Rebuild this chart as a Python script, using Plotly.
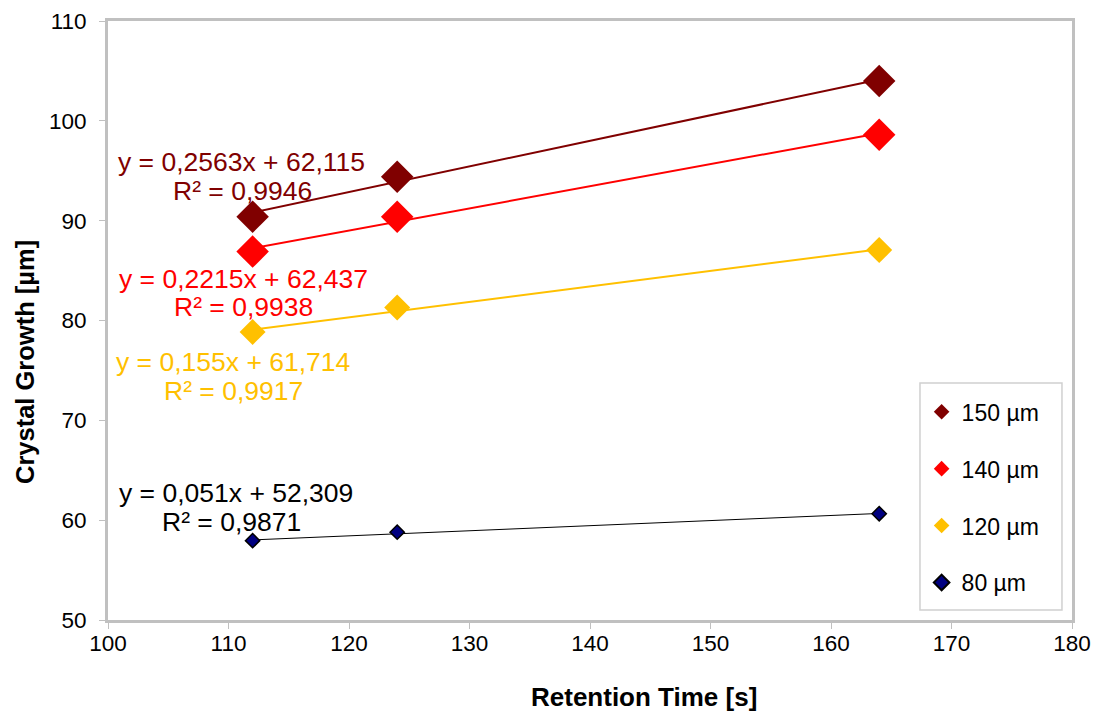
import plotly.graph_objects as go
import numpy as np

# ---- data ----
retention_time = [112, 124, 164]
series_names = ["150 µm", "140 µm", "120 µm", "80 µm"]
growth_150 = [90.4, 94.4, 104.0]
growth_140 = [86.9, 90.4, 98.6]
growth_120 = [78.85, 81.3, 87.05]
growth_80 = [57.95, 58.8, 60.65]
slopes = [0.2563, 0.2215, 0.155, 0.051]
intercepts = [62.115, 62.437, 61.714, 52.309]
eq_texts = ["y = 0,2563x + 62,115", "y = 0,2215x + 62,437",
            "y = 0,155x + 61,714", "y = 0,051x + 52,309"]
r2_texts = ["R² = 0,9946", "R² = 0,9938", "R² = 0,9917", "R² = 0,9871"]
x_ticks = [100, 110, 120, 130, 140, 150, 160, 170, 180]
y_ticks = [50, 60, 70, 80, 90, 100, 110]
x_title = "Retention Time [s]"
y_title = "Crystal Growth [µm]"

# ---- styles ----
colors = ["#800000", "#FF0000", "#FFC000", "#000080"]
line_colors = ["#800000", "#FF0000", "#FFC000", "#000000"]
line_widths = [2, 2, 2, 1]
marker_sizes = [25, 25, 20, 11]
eq_pos = [(111.07, 95.9), (111.24, 84.16), (110.41, 75.84), (110.66, 62.72)]
r2_pos = [(111.16, 92.97), (111.24, 81.35), (110.41, 72.94), (110.24, 59.81)]

all_growth = [growth_150, growth_140, growth_120, growth_80]

fig = go.Figure()
font_family = "Liberation Sans, Arial, sans-serif"

for i in range(4):
    xs = np.array([retention_time[0], retention_time[-1]], dtype=float)
    ys = slopes[i] * xs + intercepts[i]
    fig.add_trace(go.Scatter(
        x=xs, y=ys, mode="lines", showlegend=False, hoverinfo="skip",
        line=dict(color=line_colors[i], width=line_widths[i])))

for i in range(4):
    fig.add_trace(go.Scatter(
        x=retention_time, y=all_growth[i], mode="markers", name=series_names[i],
        legendgroup=series_names[i],
        marker=dict(symbol="diamond", size=marker_sizes[i], color=colors[i],
                    line=dict(color="#000000" if i == 3 else colors[i],
                              width=1.5 if i == 3 else 0))))

for i in range(4):
    tc = colors[i] if i < 3 else "#000000"
    fig.add_annotation(x=eq_pos[i][0], y=eq_pos[i][1], text=eq_texts[i],
                       showarrow=False, xanchor="center", yanchor="middle",
                       font=dict(family=font_family, size=26.5, color=tc))
    fig.add_annotation(x=r2_pos[i][0], y=r2_pos[i][1], text=r2_texts[i],
                       showarrow=False, xanchor="center", yanchor="middle",
                       font=dict(family=font_family, size=26.5, color=tc))

# axis titles (placed off-centre as in the original)
fig.add_annotation(xref="paper", yref="paper", x=0.5555, y=-0.1285,
                   text="<b>" + x_title + "</b>", showarrow=False,
                   xanchor="center", yanchor="middle",
                   font=dict(family=font_family, size=26, color="#000000"))
fig.add_annotation(xref="paper", yref="paper", x=-0.0861, y=0.4307,
                   text="<b>" + y_title + "</b>", showarrow=False, textangle=-90,
                   xanchor="center", yanchor="middle",
                   font=dict(family=font_family, size=25.5, color="#000000"))

axis_common = dict(showgrid=False, zeroline=False, showline=True, mirror=True,
                   linecolor="#C0C0C0", linewidth=3, ticks="outside",
                   tickcolor="#C0C0C0", ticklen=6, tickwidth=1)

fig.update_xaxes(range=[100, 180], tickvals=x_ticks,
                 tickfont=dict(family=font_family, size=22.5, color="#000000"),
                 ticklabelstandoff=-5,
                 **axis_common)
fig.update_yaxes(range=[50, 110], tickvals=y_ticks,
                 tickfont=dict(family=font_family, size=22.5, color="#000000"),
                 ticklabelstandoff=8,
                 **axis_common)

# legend frame
fig.add_shape(type="rect", xref="paper", yref="paper",
              x0=0.8423, x1=0.9896, y0=0.0167, y1=0.3957,
              line=dict(color="#D0D0D0", width=1.5), fillcolor="#FFFFFF", layer="below")

fig.update_layout(
    width=1093, height=713,
    margin=dict(l=108, r=21, t=21, b=93, autoexpand=False),
    paper_bgcolor="#FFFFFF", plot_bgcolor="#FFFFFF",
    font=dict(family=font_family),
    legend=dict(x=0.844, y=0.3835, xanchor="left", yanchor="top",
                borderwidth=0, bgcolor="rgba(0,0,0,0)",
                font=dict(family=font_family, size=23, color="#000000"),
                itemsizing="constant", tracegroupgap=24, traceorder="grouped",
                itemwidth=30),
)

fig.write_html("out.html")
